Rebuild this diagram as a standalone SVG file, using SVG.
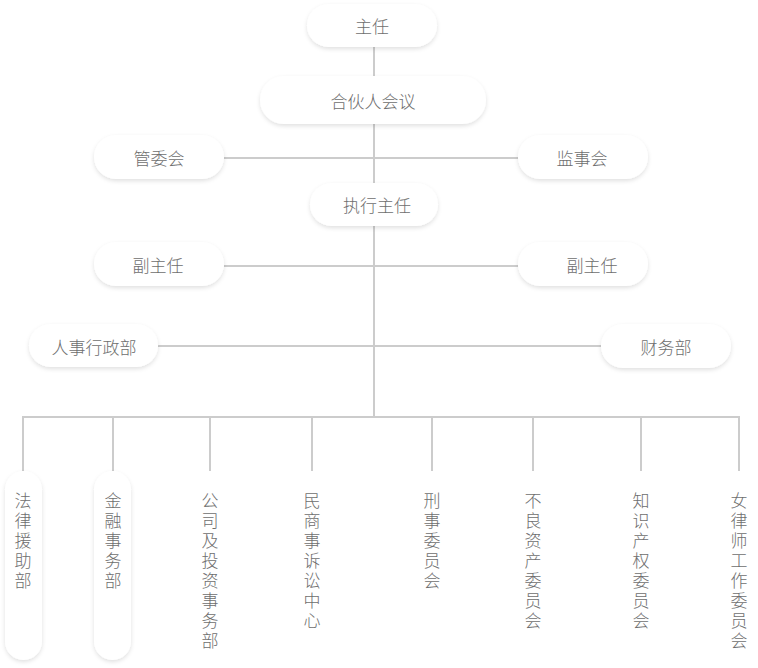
<svg xmlns="http://www.w3.org/2000/svg" width="758" height="668" viewBox="0 0 758 668">
<defs>
<filter id="sh" x="-20%" y="-20%" width="140%" height="150%">
<feDropShadow dx="0" dy="2" stdDeviation="2" flood-color="#000" flood-opacity="0.12"/>
</filter>
<style>
.pill{fill:#fff;filter:url(#sh)}
.ghost{fill:#fff}
.t{font-family:"Noto Sans CJK SC","Noto Sans",sans-serif;font-size:17px;font-weight:300;fill:#6e6e6e;text-anchor:middle;dominant-baseline:central}
.v{font-family:"Noto Sans CJK SC","Noto Sans",sans-serif;font-size:17px;font-weight:300;fill:#6e6e6e;writing-mode:vertical-rl;text-orientation:upright;letter-spacing:3px;text-anchor:start}
.c{stroke:#ccc;stroke-width:2;fill:none}
</style>
</defs>
<rect width="758" height="668" fill="#fff"/>
<g id="connectors">
<line class="c" x1="374" y1="46" x2="374" y2="418"/>
<line class="c" x1="224" y1="158" x2="518" y2="158"/>
<line class="c" x1="224" y1="266" x2="518" y2="266"/>
<line class="c" x1="158" y1="346" x2="601" y2="346"/>
<polyline class="c" points="23,471 23,417 739,417 739,471"/>
<line class="c" x1="113" y1="417" x2="113" y2="471"/>
<line class="c" x1="210" y1="417" x2="210" y2="471"/>
<line class="c" x1="312" y1="417" x2="312" y2="471"/>
<line class="c" x1="432" y1="417" x2="432" y2="471"/>
<line class="c" x1="533" y1="417" x2="533" y2="471"/>
<line class="c" x1="641" y1="417" x2="641" y2="471"/>
</g>
<g id="n-zhuren"><rect class="pill" x="307" y="4" width="130" height="43" rx="21.5"/><text class="t" x="372" y="25">主任</text></g>
<g id="n-hehuoren"><rect class="pill" x="260" y="76" width="226" height="48" rx="24"/><text class="t" x="373" y="100">合伙人会议</text></g>
<g id="n-guanwei"><rect class="pill" x="94" y="135" width="130" height="44" rx="22"/><text class="t" x="159" y="157">管委会</text></g>
<g id="n-jianshi"><rect class="pill" x="518" y="135" width="130" height="44" rx="22"/><text class="t" x="582" y="157">监事会</text></g>
<g id="n-zhixing"><rect class="pill" x="310" y="183" width="128" height="43" rx="21.5"/><text class="t" x="377" y="204">执行主任</text></g>
<g id="n-fuzhuren-l"><rect class="pill" x="94" y="242" width="130" height="44" rx="22"/><text class="t" x="158" y="264">副主任</text></g>
<g id="n-fuzhuren-r"><rect class="pill" x="518" y="242" width="130" height="44" rx="22"/><text class="t" x="592" y="264">副主任</text></g>
<g id="n-renshi"><rect class="pill" x="29" y="324" width="129" height="43" rx="21.5"/><text class="t" x="94" y="346">人事行政部</text></g>
<g id="n-caiwu"><rect class="pill" x="601" y="324" width="130" height="44" rx="22"/><text class="t" x="666" y="346">财务部</text></g>
<g id="n-falv"><rect class="pill" x="5" y="471" width="37" height="189" rx="18.5"/><text class="v" x="23" y="492">法律援助部</text></g>
<g id="n-jinrong"><rect class="pill" x="94" y="471" width="37" height="189" rx="18.5"/><text class="v" x="113" y="492">金融事务部</text></g>
<g id="n-gongsi"><rect class="ghost" x="191" y="471" width="37" height="189" rx="18.5"/><text class="v" x="210" y="492">公司及投资事务部</text></g>
<g id="n-minshang"><rect class="ghost" x="293" y="471" width="37" height="189" rx="18.5"/><text class="v" x="312" y="492">民商事诉讼中心</text></g>
<g id="n-xingshi"><rect class="ghost" x="413" y="471" width="37" height="189" rx="18.5"/><text class="v" x="432" y="492">刑事委员会</text></g>
<g id="n-buliang"><rect class="ghost" x="514" y="471" width="37" height="189" rx="18.5"/><text class="v" x="533" y="492">不良资产委员会</text></g>
<g id="n-zhishi"><rect class="ghost" x="622" y="471" width="37" height="189" rx="18.5"/><text class="v" x="641" y="492">知识产权委员会</text></g>
<g id="n-nvlvshi"><rect class="ghost" x="720" y="471" width="37" height="189" rx="18.5"/><text class="v" x="739" y="492">女律师工作委员会</text></g>
</svg>
